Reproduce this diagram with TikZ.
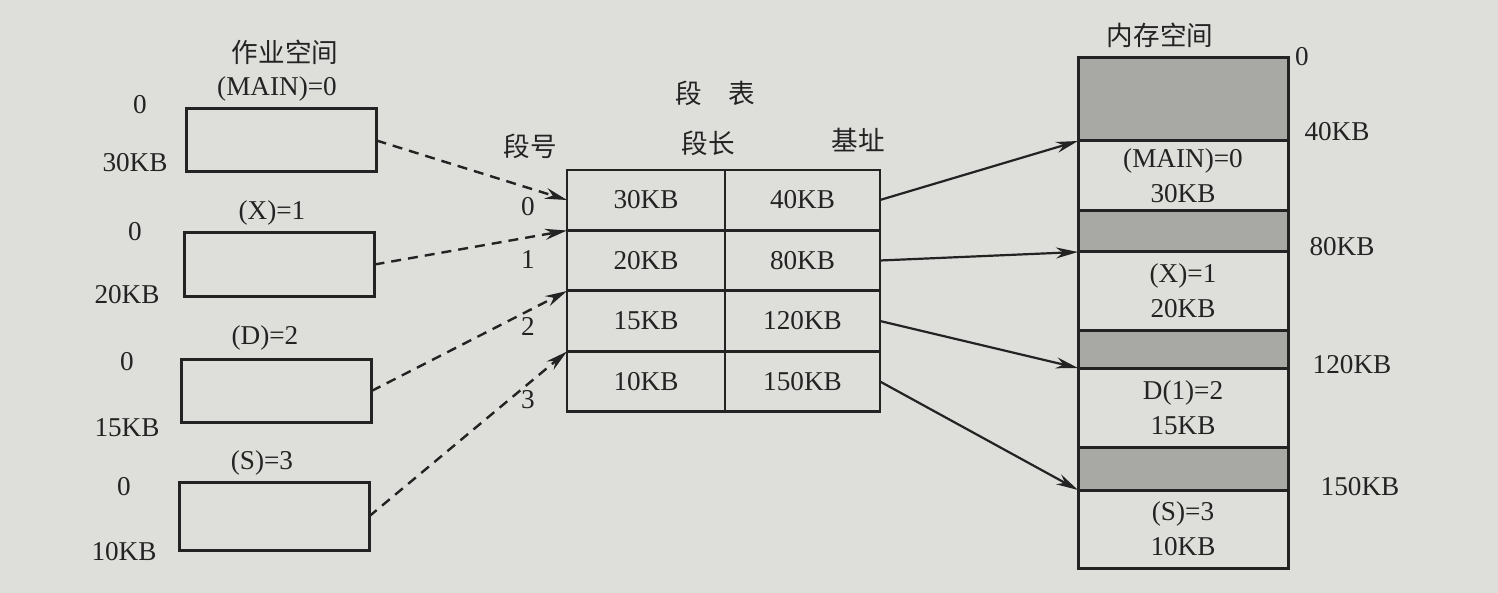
\documentclass[tikz,border=0pt]{standalone}
\usepackage{fontspec}
\setmainfont{Liberation Serif}
\newfontfamily\cjk{Noto Sans CJK SC}
\usetikzlibrary{arrows.meta}
\definecolor{paper}{RGB}{222,222,219}
\definecolor{ink}{RGB}{35,35,35}
\definecolor{shade}{RGB}{168,168,165}
\begin{document}
\begin{tikzpicture}[x=0.5pt,y=-0.5pt,
  every node/.style={font=\fontsize{13.6}{17.5}\selectfont, text=ink, inner sep=0pt, outer sep=0pt},
  box/.style={draw=ink, line width=1.5pt, rectangle, minimum width=95pt, minimum height=31.5pt},
  cell/.style={draw=ink, line width=1.4pt, rectangle, minimum height=30pt},
  seg/.style={draw=ink, line width=1.5pt, rectangle, minimum width=105pt, align=center},
  gapseg/.style={seg, fill=shade},
  dasharrow/.style={draw=ink, line width=1.2pt, dash pattern=on 5pt off 3.5pt, -{Stealth[length=11pt,width=5.5pt]}},
  solidarrow/.style={draw=ink, line width=1.1pt, -{Stealth[length=11pt,width=5.5pt]}},
  cjklbl/.style={font=\cjk\fontsize{13.3}{16}\selectfont}
]
\fill[paper] (0,0) rectangle (1498,593);
\useasboundingbox (0,0) rectangle (1498,593);

% job space
\node[cjklbl] (jt) at (285,52) {作业空间};
\node (jl0) at (277,89) {(MAIN)=0};
\node[box] (j0) at (281.5,140.5) {};
\node (js0) at (140,105) {0};
\node (je0) at (135,163) {30KB};

\node (jl1) at (272,213) {(X)=1};
\node[box] (j1) at (279.5,264.5) {};
\node (js1) at (135,232) {0};
\node (je1) at (127,295) {20KB};

\node (jl2) at (265,338) {(D)=2};
\node[box] (j2) at (276.5,391) {};
\node (js2) at (127,362) {0};
\node (je2) at (127,428) {15KB};

\node (jl3) at (262,463) {(S)=3};
\node[box, minimum height=34pt] (j3) at (274,516.5) {};
\node (js3) at (124,487) {0};
\node (je3) at (124,552) {10KB};

% segment table
\node[cjklbl] (tt) at (715,93) {段\hspace{1em}表};
\node[cjklbl] (th0) at (530,146) {段号};
\node[cjklbl] (th1) at (708,143) {段长};
\node[cjklbl] (th2) at (858,140) {基址};

\node[cell, minimum width=79pt] (c00) at (646,200) {30KB};
\node[cell, minimum width=77.5pt] (c01) at (802.5,200) {40KB};
\node[cell, minimum width=79pt] (c10) at (646,260.5) {20KB};
\node[cell, minimum width=77.5pt] (c11) at (802.5,260.5) {80KB};
\node[cell, minimum width=79pt] (c20) at (646,321) {15KB};
\node[cell, minimum width=77.5pt] (c21) at (802.5,321) {120KB};
\node[cell, minimum width=79pt] (c30) at (646,381.5) {10KB};
\node[cell, minimum width=77.5pt] (c31) at (802.5,381.5) {150KB};

\node (n0) at (528,207) {0};
\node (n1) at (528,260) {1};
\node (n2) at (528,326) {2};
\node (n3) at (528,400) {3};

% memory
\node[cjklbl] (mt) at (1160,35) {内存空间};
\node[gapseg, minimum height=41.5pt] (m0) at (1183,99.5) {};
\node[seg, minimum height=35pt] (m1) at (1183,176) {(MAIN)=0\\30KB};
\node[gapseg, minimum height=20.5pt] (m2) at (1183,231.5) {};
\node[seg, minimum height=39pt] (m3) at (1183,291) {(X)=1\\20KB};
\node[gapseg, minimum height=19pt] (m4) at (1183,349) {};
\node[seg, minimum height=39.5pt] (m5) at (1183,407.5) {D(1)=2\\15KB};
\node[gapseg, minimum height=21.5pt] (m6) at (1183,468.5) {};
\node[seg, minimum height=39pt] (m7) at (1183,529) {(S)=3\\10KB};

\node (a0) at (1302,57) {0};
\node (a1) at (1337,132) {40KB};
\node (a2) at (1342,247) {80KB};
\node (a3) at (1352,365) {120KB};
\node (a4) at (1360,487) {150KB};

% connectors
\draw[dasharrow] (j0.east) -- (c00.west);
\draw[dasharrow] (j1.east) -- (c10.north west);
\draw[dasharrow] (j2.east) -- (c20.north west);
\draw[dasharrow] (j3.east) -- (c30.north west);

\draw[solidarrow] (c01.east) -- (m1.north west);
\draw[solidarrow] (c11.east) -- (m3.north west);
\draw[solidarrow] (c21.east) -- (m5.north west);
\draw[solidarrow] (c31.east) -- (m7.north west);
\end{tikzpicture}
\end{document}
